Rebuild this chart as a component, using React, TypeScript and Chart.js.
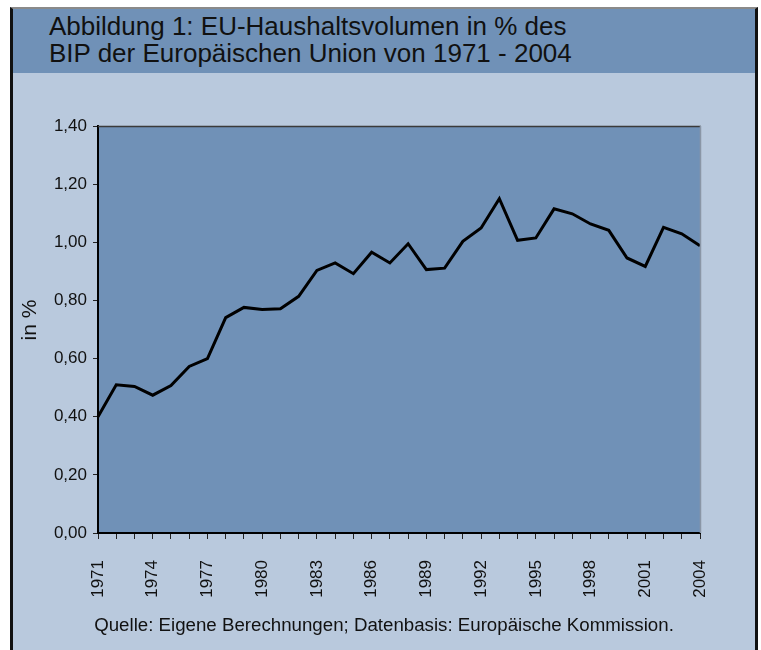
import React, { useEffect, useRef } from "react";
import { Chart, registerables } from "chart.js";

Chart.register(...registerables);

const years: string[] = [
  "1971","1972","1973","1974","1975","1976","1977","1978","1979","1980",
  "1981","1982","1983","1984","1985","1986","1987","1988","1989","1990",
  "1991","1992","1993","1994","1995","1996","1997","1998","1999","2000",
  "2001","2002","2003","2004",
];

const budgetShare: number[] = [
  0.40, 0.51, 0.504, 0.474, 0.507, 0.573, 0.60, 0.741, 0.776, 0.769,
  0.771, 0.814, 0.903, 0.929, 0.892, 0.966, 0.929, 0.995, 0.906, 0.911,
  1.003, 1.049, 1.15, 1.007, 1.015, 1.115, 1.098, 1.063, 1.041, 0.946,
  0.917, 1.051, 1.029, 0.988,
];

const titleLines: string[] = [
  "Abbildung 1: EU-Haushaltsvolumen in % des",
  "BIP der Europäischen Union von 1971 - 2004",
];
const yAxisTitle = "in %";
const sourceNote = "Quelle: Eigene Berechnungen; Datenbasis: Europäische Kommission.";

const PLOT_BG = "#7091B7";
const PAGE_BG = "#B9C9DD";
const FONT = "'Liberation Sans', Arial, sans-serif";

const plotBackground = {
  id: "plotBackground",
  beforeDraw(chart: any) {
    const { ctx, chartArea } = chart;
    if (!chartArea) return;
    ctx.save();
    ctx.fillStyle = PLOT_BG;
    ctx.fillRect(chartArea.left, chartArea.top, chartArea.right - chartArea.left, chartArea.bottom - chartArea.top);
    ctx.restore();
  },
  afterDraw(chart: any) {
    const { ctx, chartArea } = chart;
    if (!chartArea) return;
    ctx.save();
    ctx.strokeStyle = "#3a3a3a";
    ctx.lineWidth = 1.5;
    ctx.beginPath();
    ctx.moveTo(chartArea.left, chartArea.top + 0.5);
    ctx.lineTo(chartArea.right + 1, chartArea.top + 0.5);
    ctx.stroke();
    ctx.strokeStyle = "#8a96a6";
    ctx.lineWidth = 1.5;
    ctx.beginPath();
    ctx.moveTo(chartArea.right + 0.5, chartArea.top);
    ctx.lineTo(chartArea.right + 0.5, chartArea.bottom);
    ctx.stroke();
    ctx.restore();
  },
};

function EuBudgetChart() {
  const canvasRef = useRef<HTMLCanvasElement | null>(null);

  useEffect(() => {
    if (!canvasRef.current) return;
    const chart = new Chart(canvasRef.current, {
      type: "line",
      data: {
        labels: years,
        datasets: [
          {
            data: budgetShare,
            borderColor: "#000000",
            borderWidth: 3,
            pointRadius: 0,
            tension: 0,
            fill: false,
          },
        ],
      },
      options: {
        animation: false,
        responsive: false,
        maintainAspectRatio: false,
        devicePixelRatio: 1,
        layout: { padding: { top: 53, right: 55, left: 0, bottom: 0 } },
        plugins: {
          legend: { display: false },
          tooltip: { enabled: false },
          title: { display: false },
        },
        scales: {
          x: {
            type: "category",
            offset: false,
            afterFit: (scale: any) => {
              scale.height = 117;
            },
            grid: {
              display: true,
              drawOnChartArea: false,
              drawTicks: true,
              tickLength: 6,
              color: "#222222",
              lineWidth: 1,
            },
            border: { display: true, color: "#000000", width: 2 },
            ticks: {
              autoSkip: false,
              minRotation: 90,
              maxRotation: 90,
              padding: 21,
              color: "#111111",
              font: { family: FONT, size: 17 },
              callback: (_v: any, i: number) => (i % 3 === 0 ? years[i] : ""),
            },
          },
          y: {
            min: 0,
            max: 1.4,
            afterFit: (scale: any) => {
              scale.width = 85;
            },
            grid: {
              display: true,
              drawOnChartArea: false,
              drawTicks: true,
              tickLength: 5,
              color: "#222222",
              lineWidth: 1,
            },
            border: { display: true, color: "#000000", width: 2 },
            ticks: {
              stepSize: 0.2,
              padding: 6,
              color: "#111111",
              font: { family: FONT, size: 17 },
              callback: (v: any) => Number(v).toFixed(2).replace(".", ","),
            },
          },
        },
      },
      plugins: [plotBackground],
    });
    return () => chart.destroy();
  }, []);

  return (
    <canvas
      ref={canvasRef}
      width={742}
      height={577}
      style={{ position: "absolute", left: 13, top: 73, width: 742, height: 577 }}
    />
  );
}

export default function App() {
  return (
    <div>
      <div
        style={{
          position: "absolute",
          left: 10,
          top: 7,
          width: 748,
          height: 660,
          boxSizing: "border-box",
          background: PAGE_BG,
          borderLeft: "3px solid #111",
          borderRight: "3px solid #111",
          borderTop: "2px solid #8a8a8a",
        }}
      />
      <div
        style={{
          position: "absolute",
          left: 13,
          top: 9,
          width: 742,
          height: 64,
          background: PLOT_BG,
        }}
      />
      <div
        style={{
          position: "absolute",
          left: 49,
          top: 13,
          fontFamily: FONT,
          fontSize: 26,
          lineHeight: "27px",
          color: "#111",
          whiteSpace: "nowrap",
        }}
      >
        {titleLines.map((t, i) => (
          <div key={i}>{t}</div>
        ))}
      </div>
      <EuBudgetChart />
      <div
        style={{
          position: "absolute",
          left: -21,
          top: 308,
          width: 100,
          height: 24,
          lineHeight: "24px",
          textAlign: "center",
          fontFamily: FONT,
          fontSize: 21,
          color: "#111",
          transform: "rotate(-90deg)",
        }}
      >
        {yAxisTitle}
      </div>
      <div
        style={{
          position: "absolute",
          left: 13,
          top: 615,
          width: 742,
          textAlign: "center",
          fontFamily: FONT,
          fontSize: 18.7,
          lineHeight: "20px",
          color: "#111",
          whiteSpace: "nowrap",
        }}
      >
        {sourceNote}
      </div>
    </div>
  );
}
